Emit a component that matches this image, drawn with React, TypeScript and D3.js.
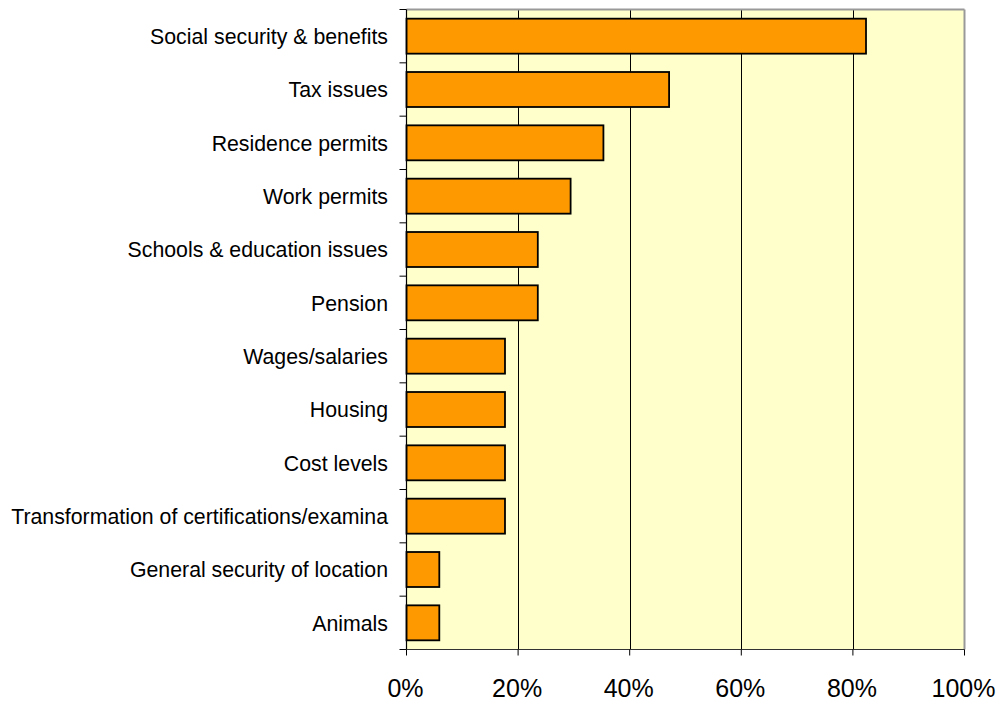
import React from "react";
import * as d3 from "d3";

const categories = [
  "Social security & benefits",
  "Tax issues",
  "Residence permits",
  "Work permits",
  "Schools & education issues",
  "Pension",
  "Wages/salaries",
  "Housing",
  "Cost levels",
  "Transformation of certifications/examina",
  "General security of location",
  "Animals",
];
const values = [82.35, 47.06, 35.29, 29.41, 23.53, 23.53, 17.65, 17.65, 17.65, 17.65, 5.88, 5.88];
const xTicks = [0, 20, 40, 60, 80, 100];

const W = 1002;
const H = 704;
const left = 406.5;
const right = 964.5;
const top = 9.5;
const bottom = 649.5;

export default function App() {
  const x = d3.scaleLinear().domain([0, 100]).range([left, right]);
  const y = d3.scaleBand<string>().domain(categories).range([top, bottom]).paddingInner(0.344).paddingOuter(0.172);
  const step = y.step();
  const font = "Arial, 'Liberation Sans', sans-serif";
  return (
    <svg width={W} height={H} style={{ position: "absolute", left: 0, top: 0 }}>
      <rect x={left} y={top} width={right - left} height={bottom - top} fill="#FFFFCC" />
      {xTicks.slice(1, -1).map((t) => (
        <line key={t} x1={Math.round(x(t)) + 0.5} x2={Math.round(x(t)) + 0.5} y1={top} y2={bottom} stroke="#000" strokeWidth={1} />
      ))}
      <line x1={left} x2={right} y1={top} y2={top} stroke="#999" strokeWidth={2} />
      <line x1={right} x2={right} y1={top} y2={bottom} stroke="#999" strokeWidth={2} />
      {categories.map((c, i) => (
        <rect
          key={c}
          x={x(0)}
          y={y(c)!}
          width={x(values[i]) - x(0)}
          height={y.bandwidth()}
          fill="#FF9900"
          stroke="#000"
          strokeWidth={1.8}
        />
      ))}
      <line x1={left} x2={left} y1={top} y2={bottom} stroke="#000" strokeWidth={1.2} />
      <line x1={left} x2={right} y1={bottom} y2={bottom} stroke="#333" strokeWidth={1.2} />
      {d3.range(categories.length + 1).map((i) => (
        <line key={i} x1={left - 7} x2={left} y1={top + i * step} y2={top + i * step} stroke="#000" strokeWidth={1} />
      ))}
      {xTicks.map((t) => (
        <line key={t} x1={x(t)} x2={x(t)} y1={bottom} y2={bottom + 6} stroke="#000" strokeWidth={1} />
      ))}
      {categories.map((c) => (
        <text
          key={c}
          x={388}
          y={y(c)! + y.bandwidth() / 2}
          dy="0.36em"
          textAnchor="end"
          fontFamily={font}
          fontSize={21.3}
          fill="#000"
        >
          {c}
        </text>
      ))}
      {xTicks.map((t) => (
        <text key={t} x={x(t) - 1} y={697} textAnchor="middle" fontFamily={font} fontSize={25} fill="#000">
          {t}%
        </text>
      ))}
    </svg>
  );
}
